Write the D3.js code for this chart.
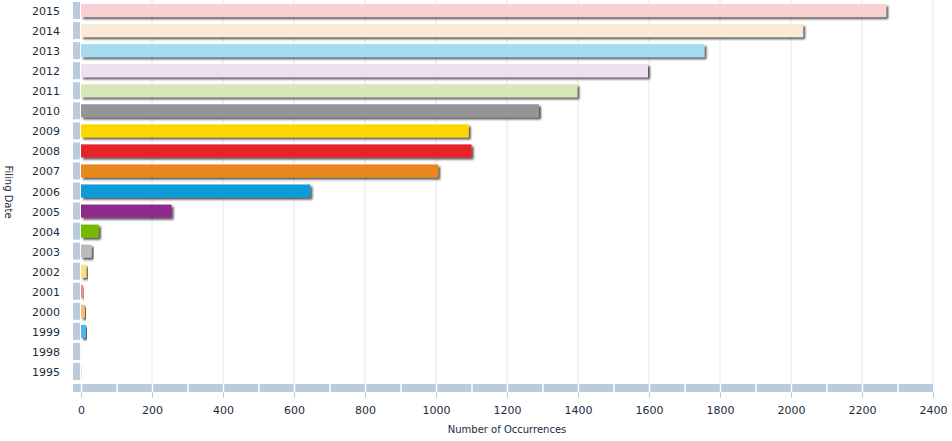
<!DOCTYPE html>
<html>
<head>
<meta charset="utf-8">
<script src="https://cdn.jsdelivr.net/npm/d3@7"></script>
<style>
  body { margin: 0; background: #fff; }
  svg text { font-family: "DejaVu Sans", Verdana, sans-serif; fill: #1b2b3c; }
</style>
</head>
<body>
<div id="chart"></div>
<script>
var years = ["2015","2014","2013","2012","2011","2010","2009","2008","2007","2006","2005","2004","2003","2002","2001","2000","1999","1998","1995"];
var counts = [2268, 2034, 1756, 1597, 1398, 1290, 1092, 1100, 1006, 646, 255, 50, 30, 15, 5, 11, 14, 1, 2];
var colors = ["#f9d0d4","#fbe9d8","#a6dcf2","#efe0ef","#d7e8b8","#939598","#fcd800","#e7242c","#e8871a","#0c9bd9","#8e2a8b","#76b900","#bbbbbb","#fbe27c","#f08080","#f7bd7a","#4fb9e6","#efe0ef","#d7e8b8"];
var xTicks = [0,200,400,600,800,1000,1200,1400,1600,1800,2000,2200,2400];

var W = 952, H = 441;
var svg = d3.select("#chart").append("svg").attr("width", W).attr("height", H);

var defs = svg.append("defs");
var f = defs.append("filter").attr("id", "shadow").attr("x", "-10%").attr("y", "-30%").attr("width", "130%").attr("height", "180%");
f.append("feDropShadow").attr("dx", 2).attr("dy", 2).attr("stdDeviation", 1)
  .attr("flood-color", "#000").attr("flood-opacity", 0.7);

var x = d3.scaleLinear().domain([0, 2400]).range([81, 933]);
var y = d3.scaleBand().domain(years).range([-1, 383]).padding(0.15);

var wallColor = "#bacbdb";

// vertical grid lines
svg.append("g").selectAll("line").data(xTicks.slice(1)).join("line")
  .attr("x1", d => x(d)).attr("x2", d => x(d))
  .attr("y1", 0).attr("y2", 384)
  .attr("stroke", "#e6e6e6").attr("stroke-width", 1);

// floor
svg.append("rect").attr("x", 73).attr("y", 384).attr("width", 933 - 73).attr("height", 8).attr("fill", wallColor);
svg.append("g").selectAll("line").data(d3.range(0, 2400, 100)).join("line")
  .attr("x1", d => x(d) + 0.5).attr("x2", d => x(d) + 0.5)
  .attr("y1", 384).attr("y2", 392)
  .attr("stroke", "#fff").attr("stroke-width", 1.5);

// left wall blocks
svg.append("g").selectAll("rect").data(years).join("rect")
  .attr("x", 73).attr("width", 7)
  .attr("y", d => y(d)).attr("height", y.bandwidth())
  .attr("fill", wallColor);

// bars
svg.append("g").selectAll("rect").data(years).join("rect")
  .attr("x", x(0))
  .attr("y", d => y(d) + 2)
  .attr("width", (d, i) => Math.max(0.5, x(counts[i]) - x(0)))
  .attr("height", y.bandwidth() - 4)
  .attr("fill", (d, i) => colors[i])
  .attr("filter", "url(#shadow)");

// x axis
var xAxis = svg.append("g").attr("transform", "translate(0,392)")
  .call(d3.axisBottom(x).tickValues(xTicks).tickFormat(d3.format("d")).tickSize(6).tickPadding(8));
xAxis.select(".domain").remove();
xAxis.selectAll(".tick line").attr("stroke", wallColor);
xAxis.selectAll(".tick text").attr("font-size", 11).attr("font-family", "DejaVu Sans, Verdana, sans-serif").attr("fill", "#1b2b3c");

// y axis labels
var yAxis = svg.append("g").attr("transform", "translate(62,1)")
  .call(d3.axisLeft(y).tickSize(0).tickPadding(2));
yAxis.select(".domain").remove();
yAxis.selectAll(".tick text").attr("font-size", 11).attr("font-family", "DejaVu Sans, Verdana, sans-serif").attr("fill", "#1b2b3c");

// titles
svg.append("text").attr("x", 507).attr("y", 433).attr("text-anchor", "middle")
  .attr("font-size", 10).text("Number of Occurrences");
svg.append("text").attr("transform", "translate(5,192) rotate(90)").attr("text-anchor", "middle")
  .attr("font-size", 10).text("Filing Date");
</script>
</body>
</html>
